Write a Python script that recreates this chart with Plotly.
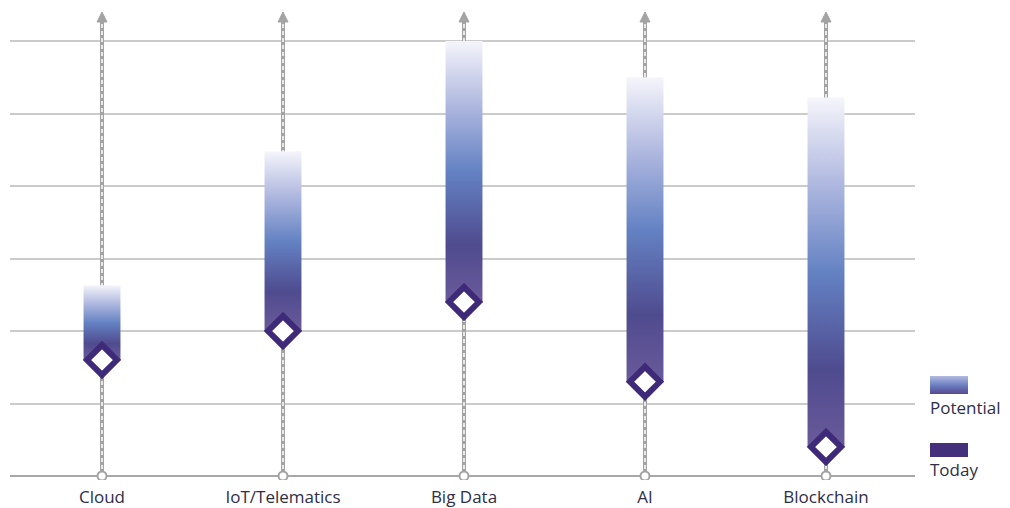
import plotly.graph_objects as go

categories = ["Cloud", "IoT/Telematics", "Big Data", "AI", "Blockchain"]
today = [1.6, 2.0, 2.4, 1.3, 0.4]
potential = [2.63, 4.48, 6.0, 5.5, 5.22]
axis_top = 6.4

W, H = 1010, 508
MT, MB = 5, 28
# pixel mapping helpers for layout (value 0 -> px 476, 72.5 px / unit)
PX0, PPU = 476.0, 72.5
y_lo = (PX0 - (H - MB)) / PPU
y_hi = (PX0 - MT) / PPU

def pv(py):
    return (PX0 - py) / PPU

bar_scale = [[0.0, "#6a5a9a"], [0.22, "#4f4b8f"], [0.5, "#6482c3"],
             [0.75, "#aeb7df"], [1.0, "#f5f5fb"]]
grey = "#a3a3a3"
purple = "#3e2a78"
hw = 0.102

fig = go.Figure()
xs = list(range(len(categories)))

# arrow shafts
for i in xs:
    fig.add_trace(go.Scatter(x=[i, i], y=[0, axis_top - 0.08], mode="lines",
                             line=dict(color=grey, width=4), hoverinfo="skip", showlegend=False))
    fig.add_trace(go.Scatter(x=[i, i], y=[0, axis_top - 0.1], mode="lines",
                             line=dict(color="white", width=1.5, dash="4px,3px"),
                             hoverinfo="skip", showlegend=False))
# arrow heads
fig.add_trace(go.Scatter(x=xs, y=[axis_top] * len(xs), mode="markers",
                         marker=dict(symbol="arrow-up", size=10, color=grey,
                                     line=dict(color=grey, width=1)),
                         hoverinfo="skip", showlegend=False))
# base circles
fig.add_trace(go.Scatter(x=xs, y=[0] * len(xs), mode="markers",
                         marker=dict(symbol="circle", size=9, color="white",
                                     line=dict(color=grey, width=2)),
                         hoverinfo="skip", showlegend=False))

# gradient bars
for i, (t, p) in enumerate(zip(today, potential)):
    fig.add_trace(go.Scatter(
        x=[i - hw, i + hw, i + hw, i - hw, i - hw],
        y=[t, t, p, p, t],
        mode="lines", fill="toself", line=dict(width=0, color="rgba(0,0,0,0)"),
        fillgradient=dict(type="vertical", colorscale=bar_scale, start=t, stop=p),
        hoverinfo="skip", showlegend=False))

# today diamonds
fig.add_trace(go.Scatter(x=xs, y=today, mode="markers",
                         marker=dict(symbol="diamond", size=23, color="white",
                                     line=dict(color=purple, width=6)),
                         hoverinfo="skip", showlegend=False))

# legend swatches (in secondary axes)
lx0, lx1 = 930, 968
fig.add_trace(go.Scatter(
    x=[lx0, lx1, lx1, lx0, lx0], y=[pv(394), pv(394), pv(376), pv(376), pv(394)],
    xaxis="x2", yaxis="y2", mode="lines", fill="toself",
    line=dict(width=0, color="rgba(0,0,0,0)"),
    fillgradient=dict(type="vertical",
                      colorscale=[[0, "#58488f"], [0.5, "#6c80c2"], [1, "#b3bbe0"]],
                      start=pv(394), stop=pv(376)),
    hoverinfo="skip", showlegend=False))
fig.add_trace(go.Scatter(
    x=[lx0, lx1, lx1, lx0, lx0], y=[pv(457), pv(457), pv(443), pv(443), pv(457)],
    xaxis="x2", yaxis="y2", mode="lines", fill="toself", fillcolor="#45307b",
    line=dict(width=0, color="rgba(0,0,0,0)"),
    hoverinfo="skip", showlegend=False))

font_family = "'Open Sans', sans-serif"
for label, py in [("Potential", 407), ("Today", 469)]:
    fig.add_annotation(x=lx0 - 2, y=pv(py), xref="x2", yref="y2", text=label,
                       showarrow=False, xanchor="left", yanchor="middle",
                       font=dict(family=font_family, size=17, color="#2e2e45"))

x_lo = (10 - 102) / 181.0
x_hi = (915 - 102) / 181.0

fig.update_layout(
    width=W, height=H,
    margin=dict(l=0, r=0, t=MT, b=MB),
    paper_bgcolor="white", plot_bgcolor="white",
    xaxis=dict(domain=[10 / W, 915 / W], range=[x_lo, x_hi], tickvals=xs,
               ticktext=categories, showgrid=False, zeroline=False, showline=False,
               ticks="", ticklabelstandoff=5,
               tickfont=dict(family=font_family, size=17, color="#2e2e45")),
    yaxis=dict(range=[y_lo, y_hi], dtick=1, tick0=0, showticklabels=False,
               showgrid=True, gridcolor="#cbcbcb", gridwidth=1.5,
               zeroline=True, zerolinecolor="#a8a8a8", zerolinewidth=2,
               showline=False, ticks=""),
    xaxis2=dict(domain=[920 / W, 1.0], range=[920, 1010], visible=False),
    yaxis2=dict(range=[y_lo, y_hi], visible=False, anchor="x2"),
    showlegend=False,
)

fig.write_html("out.html")
